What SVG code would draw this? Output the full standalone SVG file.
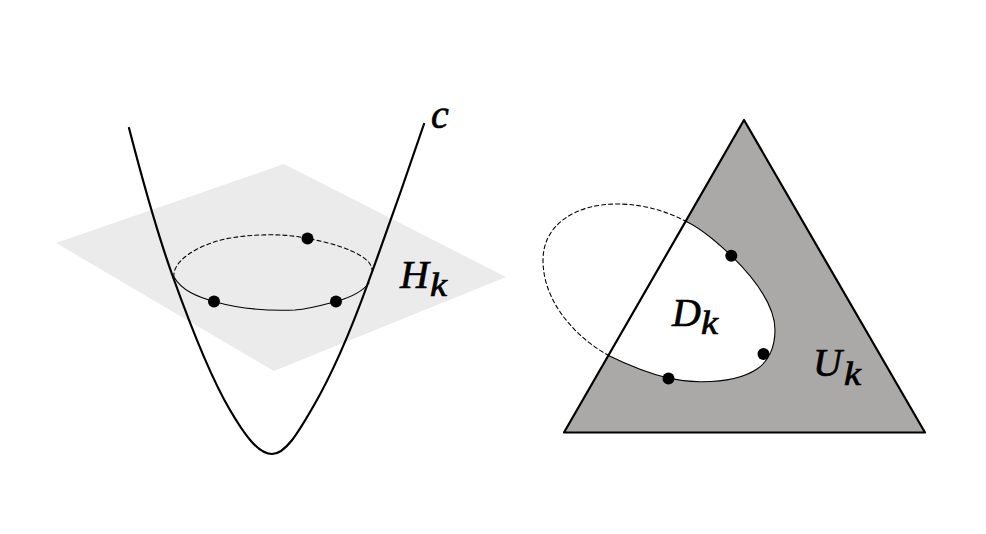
<svg xmlns="http://www.w3.org/2000/svg" width="986" height="534" viewBox="0 0 986 534">
<style>
.curve{fill:none;stroke:#000;stroke-linecap:round;stroke-linejoin:round}
.thick{stroke-width:2.2}
.thin{stroke-width:1.1}
.dash{stroke-width:1.1;stroke-dasharray:4 3}
.dot{fill:#000}
text{font-family:"Liberation Serif","DejaVu Serif",serif;font-style:italic;fill:#000;stroke:#000;stroke-width:.7}
.m{font-size:40px}
.s{font-size:33px}
</style>
<rect width="986" height="534" fill="#fff"/>
<g id="plane"><polygon points="56,243 284,164 506,277 274,371" fill="#ebebeb"/></g>
<g id="triangle"><polygon points="744,120 925,432.5 564,432.5" fill="#aaa9a7"/></g>
<g id="disk"><path d="M686.7 221.7C702 229 718 243 731.3 255.7C755 279 775 305 775 330C775 348 768 362 757 369C742 379 722 382 700 381.7C688 381.5 677 380 668 378C648 373 628 365 609 355.7Z" fill="#fff"/></g>
<g id="connectors">
<path class="curve dash" d="M174 277C172 262 195 246 225 239C250 234 285 233 307 238.5C335 243 372 255 372 270"/>
<path class="curve thin" d="M174 277C182 291 198 297 214 301.5C240 309 270 311 295 310C310 309 323 305 336 301.5C352 297 363 291 369 283"/>
<path class="curve thick" d="M129 128C143.500 184 158 235.500 173 277C192 330 211 378 230 410C244 434 258 454 272 454C286 454 299 431 313 407C331 376 350 333 368 283C387 231 406 177 424 124"/>
<path class="curve dash" d="M609 355.700C580 340 543 305 543 260C543 225 575 204 617 204C645 204 668 212 686.700 221.700"/>
<path class="curve thin" d="M686.700 221.700C702 229 718 243 731.300 255.700C755 279 775 305 775 330C775 348 768 362 757 369C742 379 722 382 700 381.700C688 381.500 677 380 668 378C648 373 628 365 609 355.700"/>
<polygon class="curve thick" points="744,120 925,432.5 564,432.5"/>
</g>
<g id="points">
<circle class="dot" cx="214" cy="301.5" r="6"/>
<circle class="dot" cx="336" cy="301.5" r="6"/>
<circle class="dot" cx="307.5" cy="238.5" r="6"/>
<circle class="dot" cx="731.3" cy="255.7" r="6"/>
<circle class="dot" cx="763.5" cy="354" r="6"/>
<circle class="dot" cx="668.5" cy="378.5" r="6"/>
</g>
<g id="label-c"><text class="m" x="431" y="128">c</text></g>
<g id="label-hk"><text class="m" x="400" y="288">H</text><text class="s" x="430" y="296" textLength="17" lengthAdjust="spacingAndGlyphs">k</text></g>
<g id="label-dk"><text class="m" x="672" y="326">D</text><text class="s" x="701" y="334" textLength="17" lengthAdjust="spacingAndGlyphs">k</text></g>
<g id="label-uk"><text class="m" x="813" y="376">U</text><text class="s" x="844" y="385" textLength="17" lengthAdjust="spacingAndGlyphs">k</text></g>
</svg>
